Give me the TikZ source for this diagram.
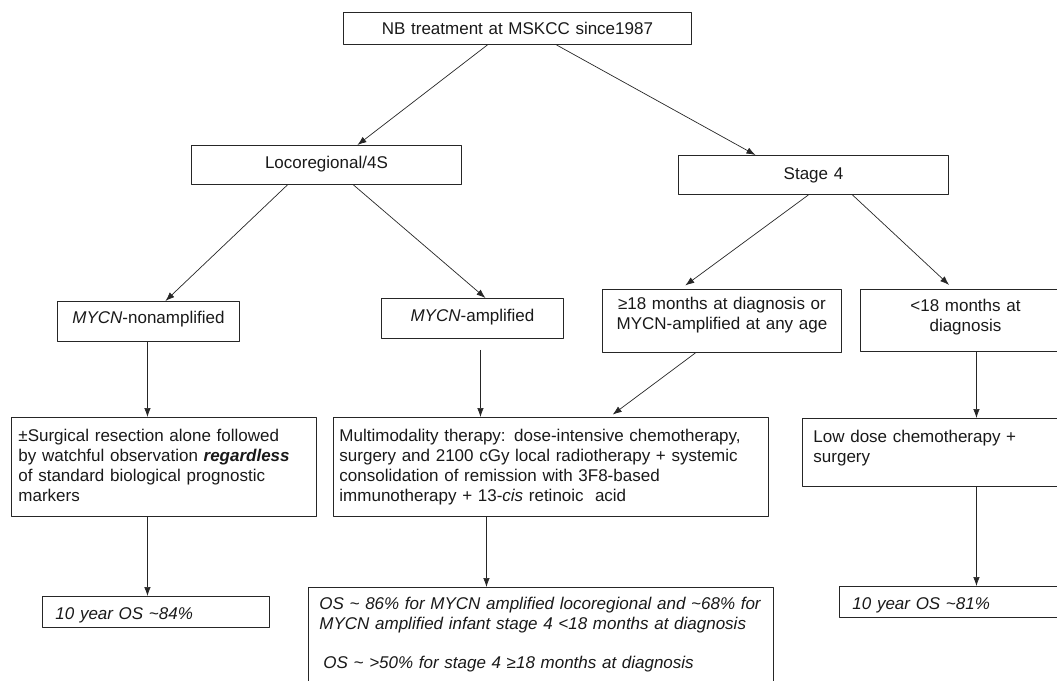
\documentclass[tikz,border=0pt]{standalone}
\usepackage{fontspec}
\setmainfont{Liberation Sans}
\usetikzlibrary{arrows.meta}
\tikzset{
  box/.style={draw=black!85, line width=0.9pt, anchor=north west, inner ysep=0pt,
    text=black!90, font=\fontsize{17}{20}\selectfont},
  link/.style={->, draw=black!85, line width=0.7pt}
}
\begin{document}
\begin{tikzpicture}[x=1pt, y=-1pt, line join=round, >={Latex[length=9pt,width=6.5pt]}]
  \useasboundingbox (0,0) rectangle (1057,680);
  \clip (0,0) rectangle (1057,680);
  % top
  \node[box, align=center, inner xsep=7pt, text width=334pt, text height=22pt, text depth=10pt] (start) at (343,12) {NB treatment at MSKCC since1987};
  % groups
  \node[box, align=center, inner xsep=7pt, text width=256pt, text height=23pt, text depth=16pt] (loco) at (191,145) {Locoregional/4S};
  \node[box, align=center, inner xsep=7pt, text width=256pt, text height=24pt, text depth=15pt] (stage) at (678,155) {Stage 4};
  % subgroups
  \node[box, align=center, inner xsep=7pt, text width=168pt, text height=22pt, text depth=18pt] (nonamp) at (57,301) {\textit{MYCN}-nonamplified};
  \node[box, align=center, inner xsep=7pt, text width=168pt, text height=23pt, text depth=17pt] (amp) at (381,298) {\textit{MYCN}-amplified};
  \node[box, align=center, inner xsep=7pt, text width=225pt, text height=20pt, text depth=43pt] (older) at (602,289) {≥18 months at diagnosis or\\MYCN-amplified at any age};
  \node[box, align=center, inner xsep=7pt, text width=196pt, text height=22pt, text depth=40pt] (younger) at (860,289) {<18 months at\\diagnosis};
  % treatment
  \node[box, align=left, inner xsep=7pt, text width=291pt, text height=24pt, text depth=75pt] (surgery) at (11,417) {±Surgical resection alone followed\\by watchful observation \textbf{\textit{regardless}}\\of standard biological prognostic\\markers};
  \node[box, align=left, inner xsep=6pt, text width=423pt, text height=24pt, text depth=75pt] (multi) at (333,417) {Multimodality therapy: dose-intensive chemotherapy,\\surgery and 2100 cGy local radiotherapy + systemic\\consolidation of remission with 3F8-based\\immunotherapy + 13-\textit{cis} retinoic\ \ acid};
  \node[box, align=left, inner xsep=11pt, text width=256pt, text height=24pt, text depth=44pt] (lowdose) at (802,418) {Low dose chemotherapy +\\surgery};
  % outcome
  \node[box, align=left, inner xsep=13pt, text width=201pt, text height=23pt, text depth=8pt, font=\fontsize{17}{20}\selectfont\itshape] (osleft) at (42,596) {10 year OS \textasciitilde84\%};
  \node[box, align=left, inner xsep=11pt, text width=443pt, text height=22pt, text depth=81pt, font=\fontsize{17}{20}\selectfont\itshape] (osmid) at (308,587) {OS \textasciitilde{} 86\% for MYCN amplified locoregional and \textasciitilde68\% for\\MYCN amplified infant stage 4 <18 months at diagnosis\\[19pt]\hspace*{4pt}OS \textasciitilde{} >50\% for stage 4 ≥18 months at diagnosis};
  \node[box, align=left, inner xsep=13pt, text width=215pt, text height=23pt, text depth=8pt, font=\fontsize{17}{20}\selectfont\itshape] (osright) at (839,586) {10 year OS \textasciitilde81\%};
  % arrows
  \draw[link] ([xshift=-30pt]start.south) -- ([xshift=31pt]loco.north);
  \draw[link] ([xshift=39pt]start.south) -- ([xshift=-58pt]stage.north);
  \draw[link] ([xshift=-39pt]loco.south) -- ([xshift=17pt]nonamp.north);
  \draw[link] ([xshift=27pt]loco.south) -- ([xshift=13pt]amp.north);
  \draw[link, shorten >=6pt] ([xshift=-5pt]stage.south) -- ([xshift=-41.5pt]older.north);
  \draw[link, shorten >=6pt] ([xshift=39pt]stage.south) -- ([xshift=-12pt]younger.north);
  \draw[link] ([xshift=-1pt]nonamp.south) -- ([xshift=-16.5pt]surgery.north);
  \draw[link, shorten <=11pt] ([xshift=8pt]amp.south) -- ([xshift=-70.5pt]multi.north);
  \draw[link, shorten >=4pt] ([xshift=-26.5pt]older.south) -- ([xshift=58.5pt]multi.north);
  \draw[link] ([xshift=11pt]younger.south) -- ([xshift=35pt]lowdose.north);
  \draw[link] ([xshift=-16.5pt]surgery.south) -- ([xshift=-8.5pt]osleft.north);
  \draw[link] ([xshift=-64.5pt]multi.south) -- ([xshift=-54.5pt]osmid.north);
  \draw[link] ([xshift=35pt]lowdose.south) -- ([xshift=16.5pt]osright.north);
\end{tikzpicture}
\end{document}
